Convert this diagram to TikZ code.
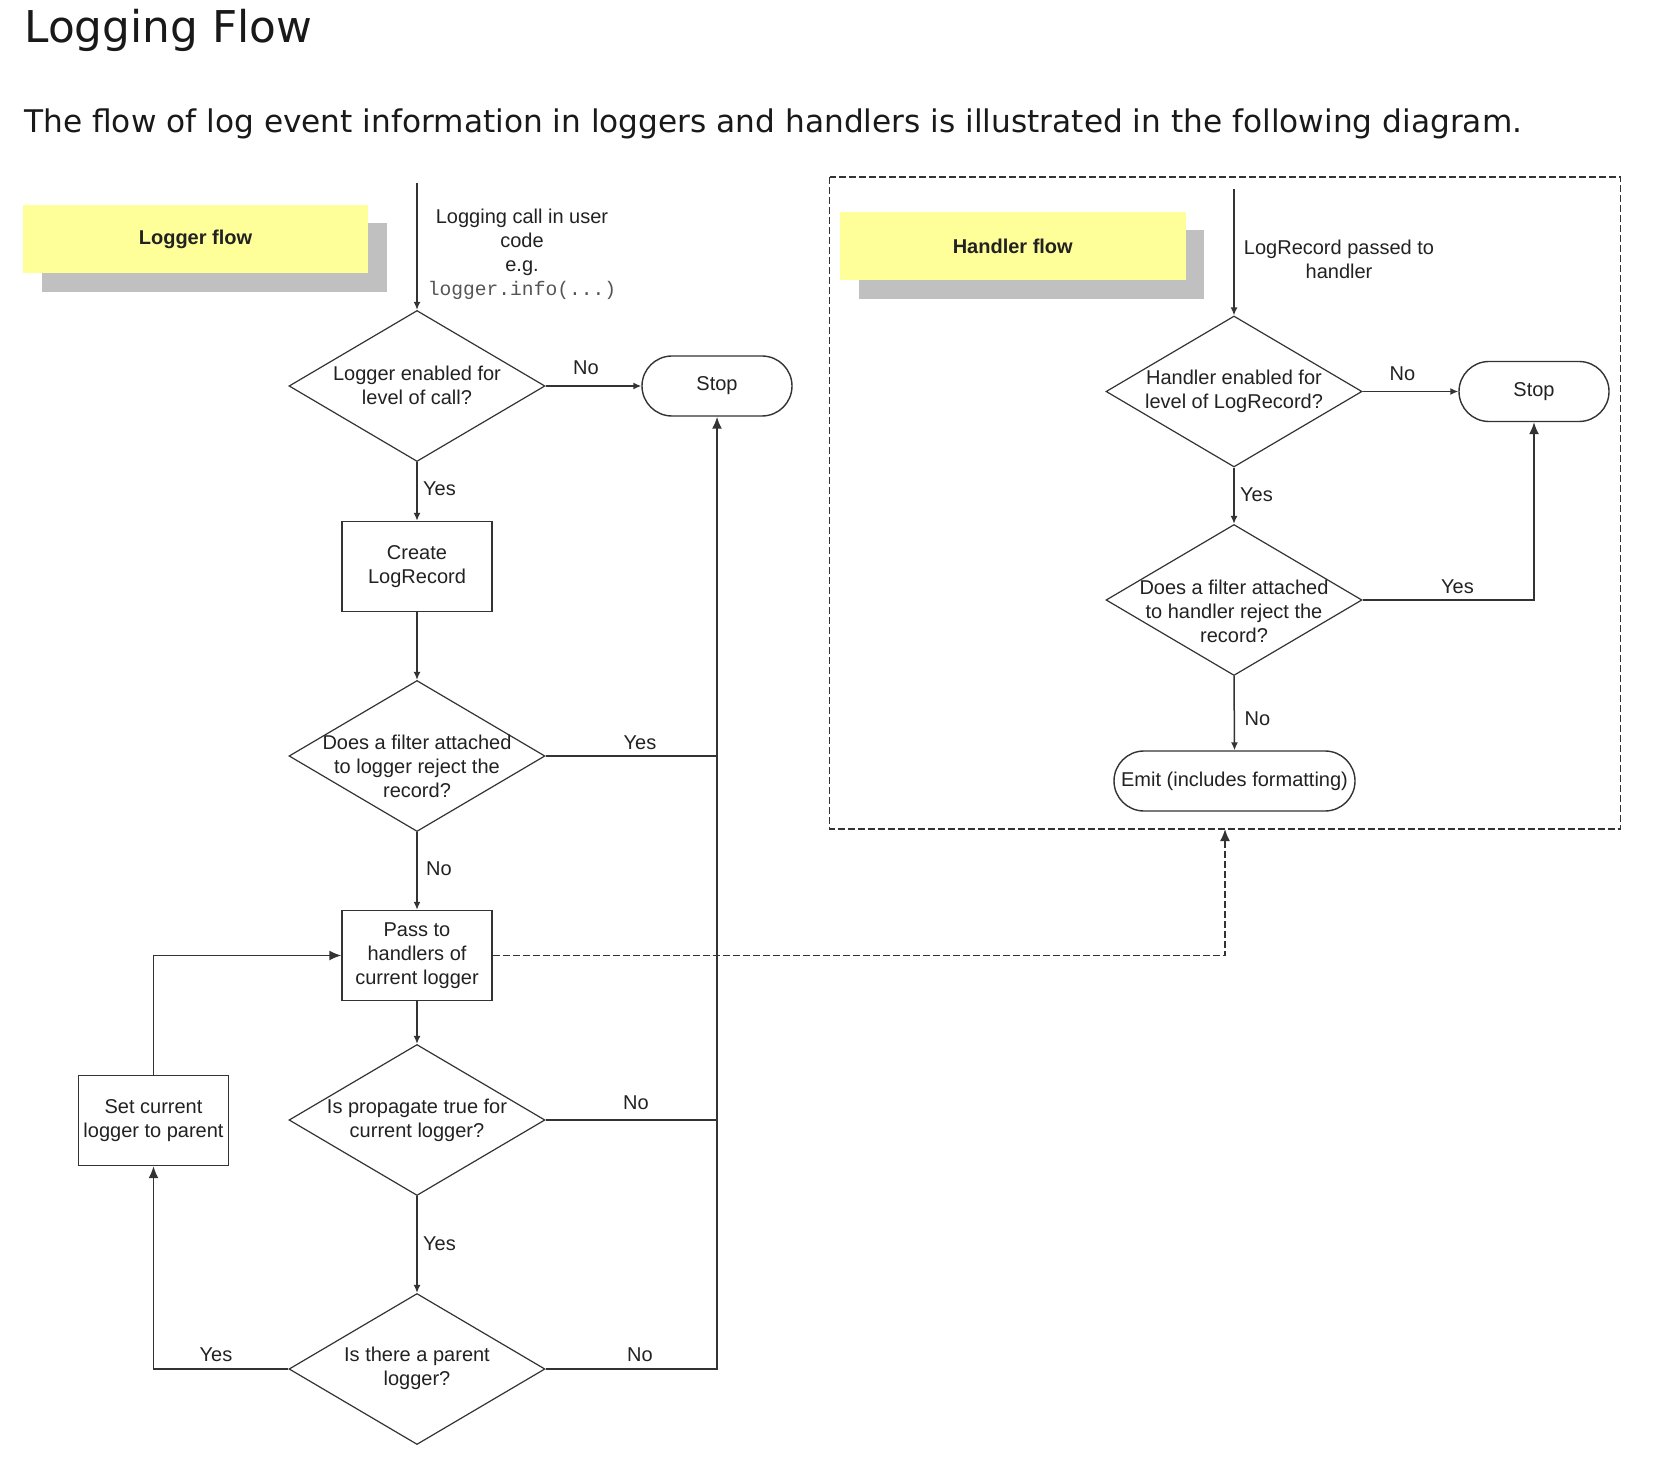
\documentclass[tikz,border=0pt]{standalone}
\usepackage{fontspec}
\setmainfont{Liberation Sans}
\setmonofont{Liberation Mono}
\newfontfamily\headfont{DejaVu Sans}
\usetikzlibrary{shapes.geometric,shapes.misc,arrows.meta}
\definecolor{ylw}{HTML}{FFFF99}
\definecolor{shd}{HTML}{C0C0C0}
\definecolor{ln}{HTML}{333333}
\definecolor{tx}{HTML}{222222}
\definecolor{mono}{HTML}{555555}
\begin{document}
\begin{tikzpicture}[x=0.5pt,y=-0.5pt,
  every node/.style={font=\fontsize{10}{12}\selectfont, text=tx},
  dia/.style={draw=ln, line width=0.6pt, diamond, minimum width=128pt, minimum height=75.5pt, inner sep=0pt},
  box/.style={draw=ln, line width=0.7pt, rectangle, minimum width=75pt, minimum height=45pt, inner sep=0pt, align=center},
  term/.style={draw=ln, line width=0.7pt, rounded rectangle, minimum width=75pt, minimum height=30pt, inner sep=0pt},
  conn/.style={draw=ln, line width=0.75pt},
  sarr/.style={conn, -{Latex[length=4pt,width=3.5pt]}},
  barr/.style={conn, -{Latex[length=6pt,width=5pt]}},
  dsh/.style={dash pattern=on 3.5pt off 1.5pt},
  lbl/.style={inner sep=0pt},
  dtxt/.style={align=center, inner sep=0pt},
  flowtag/.style={fill=ylw, minimum width=172.5pt, minimum height=34pt, inner sep=0pt, font=\fontsize{10}{12}\selectfont\bfseries},
]
\useasboundingbox (0,0) rectangle (1680,1470);
\fill[white] (0,0) rectangle (1680,1470);

% headings
\node[anchor=base west, inner sep=0pt, font=\headfont\fontsize{21.9}{24}\selectfont, text=black!90] (title) at (24,43) {Logging Flow};
\node[anchor=base west, inner sep=0pt, font=\headfont\fontsize{15.6}{18}\selectfont, text=black!90] (sub) at (24,133) {The flow of log event information in loggers and handlers is illustrated in the following diagram.};

% flow tags
\fill[shd] (42,223) rectangle (387,292);
\node[flowtag] (lflow) at (195.5,239) {Logger flow};
\fill[shd] (858.5,230.5) rectangle (1204,299.5);
\node[flowtag, minimum width=172.75pt] (hflow) at (1012.75,246) {Handler flow};

% handler container
\draw[ln, line width=0.75pt, dsh] (829.5,177) rectangle (1620.5,829);
\coordinate (hbot) at (1225,829);

% logger flow nodes
\coordinate (start1) at (417,183);
\node[dtxt] (calltxt) at (522,254) {Logging call in user\\code\\e.g.\\{\ttfamily\fontsize{9.8}{12}\selectfont\color{mono}logger.info(...)}};
\node[dia] (d1) at (417,386) {};
\node[dtxt] (d1t) at (417,385) {Logger enabled for\\level of call?};
\node[term] (stop1) at (717,386) {Stop};
\node[box] (create) at (417,566.5) {Create\\LogRecord};
\node[dia] (d2) at (417,756) {};
\node[dtxt] (d2t) at (417,766) {Does a filter attached\\to logger reject the\\record?};
\node[box] (pass) at (417,955.5) {Pass to\\handlers of\\current logger};
\node[dia] (d3) at (417,1120) {};
\node[dtxt] (d3t) at (417,1120) {Is propagate true for\\current logger?};
\node[box] (setp) at (153.5,1120.5) {Set current\\logger to parent};
\node[dia] (d4) at (417,1369) {};
\node[dtxt] (d4t) at (417,1368) {Is there a parent\\logger?};

% logger flow connectors
\draw[sarr] (start1) -- (d1.north);
\draw[sarr] (d1.east) -- (stop1.west);
\draw[sarr] (d1.south) -- (create.north);
\draw[sarr] (create.south) -- (d2.north);
\draw[conn] (d2.east) -- (d2.east -| stop1.south);
\draw[conn] (d3.east) -- (d3.east -| stop1.south);
\draw[barr, line width=1pt] (d4.east) -- (d4.east -| stop1.south) -- (stop1.south);
\draw[sarr] (d2.south) -- (pass.north);
\draw[sarr] (pass.south) -- (d3.north);
\draw[sarr] (d3.south) -- (d4.north);
\draw[barr] (d4.west) -- (d4.west -| setp.south) -- (setp.south);
\draw[barr] (setp.north) -- (setp.north |- pass.west) -- (pass.west);
\draw[barr, dsh, line width=0.85pt] (pass.east) -- (pass.east -| hbot) -- (hbot);

% logger flow labels
\node[lbl] (l1) at (586,368) {No};
\node[lbl] (l2) at (439.5,489) {Yes};
\node[lbl] (l3) at (640,742.5) {Yes};
\node[lbl] (l4) at (439,869) {No};
\node[lbl] (l5) at (636,1102.5) {No};
\node[lbl] (l6) at (439.5,1244) {Yes};
\node[lbl] (l7) at (216,1355) {Yes};
\node[lbl] (l8) at (640,1355) {No};

% handler flow nodes
\coordinate (start2) at (1234,189);
\node[dtxt] (rectxt) at (1339,259) {LogRecord passed to\\handler};
\node[dia] (h1) at (1234,391.5) {};
\node[dtxt] (h1t) at (1234,391) {Handler enabled for\\level of LogRecord?};
\node[term] (stop2) at (1534,391.5) {Stop};
\node[dia] (h2) at (1234,600) {};
\node[dtxt] (h2t) at (1234,611) {Does a filter attached\\to handler reject the\\record?};
\node[term, minimum width=120.5pt] (emit) at (1234.5,781) {Emit (includes formatting)};

% handler flow connectors
\draw[sarr] (start2) -- (h1.north);
\draw[sarr] (h1.east) -- (stop2.west);
\draw[sarr] (h1.south) -- (h2.north);
\draw[barr] (h2.east) -- (h2.east -| stop2.south) -- (stop2.south);
\draw[sarr] (h2.south) -- (emit.north);

% handler flow labels
\node[lbl] (l9) at (1402.5,373.5) {No};
\node[lbl] (l10) at (1256.5,494.5) {Yes};
\node[lbl] (l11) at (1457.5,586.5) {Yes};
\node[lbl] (l12) at (1257.5,719) {No};
\end{tikzpicture}
\end{document}
